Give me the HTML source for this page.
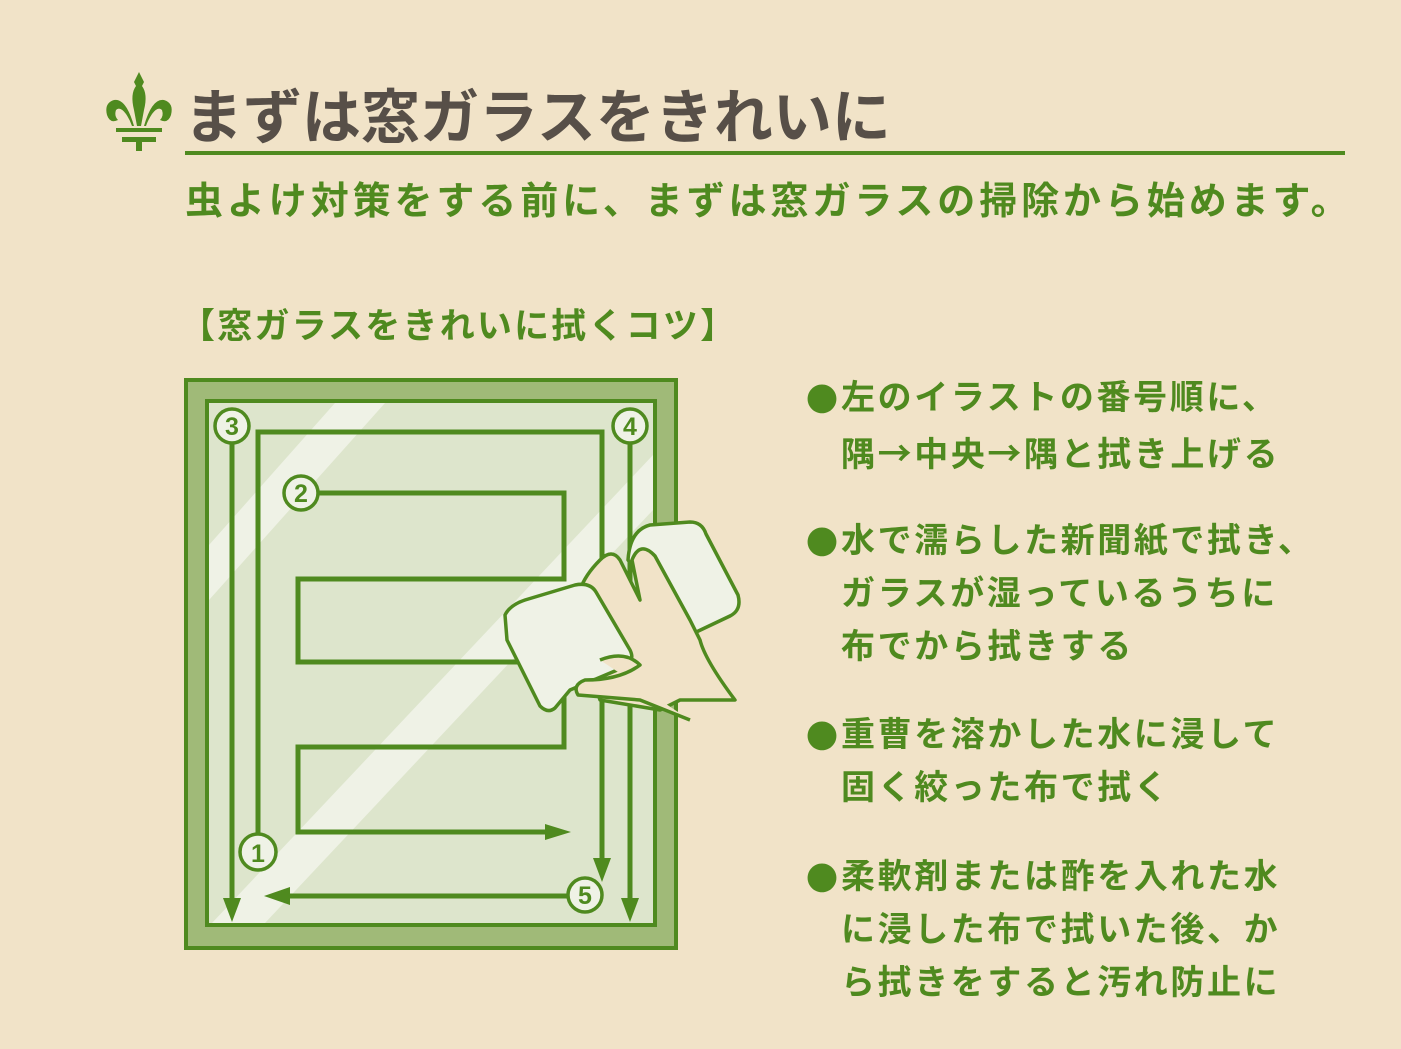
<!DOCTYPE html>
<html><head><meta charset="utf-8"><style>
html,body{margin:0;padding:0}
body{width:1401px;height:1049px;background:#f1e3c8;position:relative;overflow:hidden;font-family:"Liberation Sans","Noto Sans CJK JP",sans-serif;font-weight:bold}
.t{position:absolute;white-space:nowrap}
#title{left:184px;top:70px;font-size:59px;color:#574f48;letter-spacing:0px}
#rule{position:absolute;left:185px;top:151px;width:1160px;height:4px;background:#4f8a1f}
#sub{left:185px;top:170px;font-size:38px;color:#4f8a1f;letter-spacing:3.9px}
#hd{left:180px;top:298px;font-size:35px;color:#4f8a1f;letter-spacing:2.2px}
.li{position:absolute;left:841px;font-size:34px;color:#4f8a1f;line-height:53px;white-space:nowrap;letter-spacing:2.6px}
.b{position:absolute;left:-35px;top:0;font-family:"Noto Sans CJK JP",sans-serif;font-size:32px;letter-spacing:0}
.ar{font-family:"Noto Sans CJK JP",sans-serif}
</style></head><body>
<svg style="position:absolute;left:104px;top:70px" width="70" height="86" viewBox="0 0 70 86">
<g fill="#4f8a1f">
<path d="M35 2 L40 12 L38 16 Q44 24 40 40 L37 56 L33 56 L30 40 Q26 24 32 16 L30 12Z"/>
<path d="M30 56 Q22 28 10 30 Q0 33 3 45 Q6 54 14 50 Q10 46 12 40 Q16 36 22 44 Q26 50 28 56Z"/>
<path d="M40 56 Q48 28 60 30 Q70 33 67 45 Q64 54 56 50 Q60 46 58 40 Q54 36 48 44 Q44 50 42 56Z"/>
<rect x="12" y="58" width="46" height="4"/>
<rect x="18" y="67" width="34" height="5"/>
<rect x="32" y="67" width="6" height="14"/>
</g></svg>
<div class="t" id="title">まずは窓ガラスをきれいに</div>
<div id="rule"></div>
<div class="t" id="sub">虫よけ対策をする前に、まずは窓ガラスの掃除から始めます。</div>
<div class="t" id="hd">【窓ガラスをきれいに拭くコツ】</div>

<svg style="position:absolute;left:0;top:0" width="1401" height="1049">
<rect x="186" y="380" width="490" height="568" fill="#a0ba78" stroke="#4f8a1f" stroke-width="4"/>
<rect x="207" y="401" width="448" height="524" fill="#dde5cc" stroke="#4f8a1f" stroke-width="4"/>
<polygon points="335,403 385,403 209,600 209,545" fill="#eff2e6"/>
<polygon points="653,455 653,510 265,923 212,923" fill="#eff2e6"/>
<g fill="none" stroke="#4f8a1f" stroke-width="5">
<polyline points="232,444 232,900"/>
<polyline points="258,835 258,432 602,432 602,862"/>
<polyline points="630,444 630,900"/>
<polyline points="318,493 564,493 564,579 298,579 298,662 564,662 564,747 298,747 298,832 550,832"/>
<polyline points="568,896 285,896"/>
</g>
<g fill="#4f8a1f">
<polygon points="223,898 241,898 232,922"/>
<polygon points="621,898 639,898 630,922"/>
<polygon points="593,858 611,858 602,882"/>
<polygon points="545,824 545,840 571,832"/>
<polygon points="290,887 290,905 264,896"/>
</g>
<g stroke="#4f8a1f" stroke-width="3.5" fill="#eff2e6">
<circle cx="232" cy="426" r="17"/><circle cx="630" cy="426" r="17"/>
<circle cx="301" cy="493" r="17"/><circle cx="258" cy="852" r="18"/><circle cx="585" cy="895" r="17"/>
</g>
<g font-size="25" fill="#4f8a1f" text-anchor="middle" font-family="Liberation Sans,sans-serif" font-weight="bold">
<text x="232" y="435">3</text><text x="630" y="435">4</text><text x="301" y="502">2</text><text x="258" y="862">1</text><text x="585" y="904">5</text>
</g>
<g stroke="#4f8a1f" stroke-width="3.5" stroke-linejoin="round">
<path d="M628 560 Q630 530 650 525 L690 522 Q702 522 706 534 L738 595 Q742 610 730 616 L690 635 Z" fill="#eff2e6"/>
<path d="M580 590 Q585 575 600 560 Q612 548 620 560 L640 600 L632 560 Q640 540 655 556 L690 620 L700 640 Q705 660 735 700 L680 700 L660 710 L600 700 L580 640 Z" fill="#f1e3c8"/>
<path d="M505 615 Q510 605 525 600 L575 585 Q590 582 596 592 L630 650 Q636 662 622 668 L570 690 L555 708 Q548 714 540 706 L507 640 Z" fill="#eff2e6"/>
<path d="M600 660 Q625 650 640 665 Q620 680 585 680 Q572 685 578 695 L640 700 L690 720" fill="#f1e3c8"/>
</g>
</svg>

<div class="li" style="top:372px"><span class="b">●</span>左のイラストの番号順に、<br>隅<span class="ar">→</span>中央<span class="ar">→</span>隅と拭き上げる</div>
<div class="li" style="top:515px"><span class="b">●</span>水で濡らした新聞紙で拭き、<br>ガラスが湿っているうちに<br>布でから拭きする</div>
<div class="li" style="top:709px"><span class="b">●</span>重曹を溶かした水に浸して<br>固く絞った布で拭く</div>
<div class="li" style="top:851px"><span class="b">●</span>柔軟剤または酢を入れた水<br>に浸した布で拭いた後、か<br>ら拭きをすると汚れ防止に</div>
</body></html>
